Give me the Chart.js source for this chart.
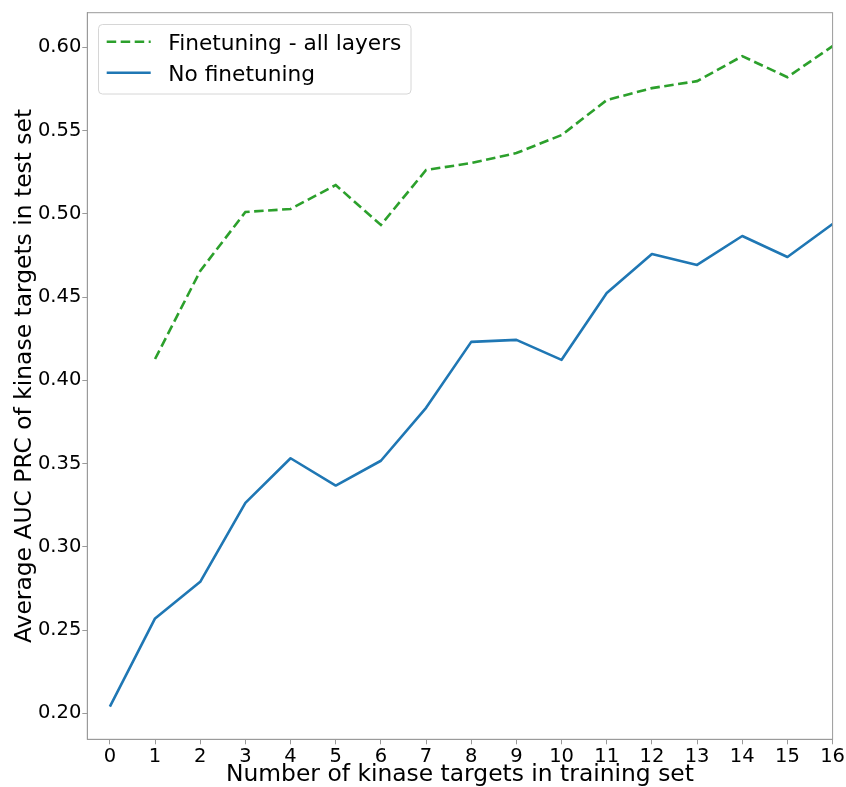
<!DOCTYPE html>
<html>
<head>
<meta charset="utf-8">
<script src="https://cdn.jsdelivr.net/npm/chart.js@4.4.1/dist/chart.umd.min.js"></script>
<style>
  html, body { margin: 0; padding: 0; background: #ffffff; }
  #wrap { width: 846px; height: 787px; }
</style>
</head>
<body>
<div id="wrap"><canvas id="chart" width="846" height="787"></canvas></div>
<script>
// Number of kinase targets included in the training set
const targetsCount = [0, 1, 2, 3, 4, 5, 6, 7, 8, 9, 10, 11, 12, 13, 14, 15, 16];

// Average AUC PRC on the test-set kinase targets
const noFinetuning = [0.204, 0.257, 0.279, 0.3264, 0.3532, 0.3368, 0.3517, 0.3835,
  0.4231, 0.4243, 0.4123, 0.4525, 0.4759, 0.4693, 0.4867, 0.4741, 0.4939];
// Fine-tuned model has no value at 0 targets
const finetuneAll = [null, 0.4128, 0.4657, 0.5011, 0.5029, 0.5173, 0.4933, 0.5263,
  0.5305, 0.5365, 0.5473, 0.5683, 0.5755, 0.5797, 0.5947, 0.5821, 0.6007];

const xTickValues = targetsCount;
const yTickValues = [0.20, 0.25, 0.30, 0.35, 0.40, 0.45, 0.50, 0.55, 0.60];

const seriesNames = ['Finetuning - all layers', 'No finetuning'];

const FONT = '"DejaVu Sans", "Liberation Sans", sans-serif';
const FRAME = '#9a9a9a';

function toPoints(values) {
  return targetsCount.map((x, i) => ({ x: x, y: values[i] }))
                     .filter(p => p.y !== null);
}

// Full box around the plot area (top/right edges are not drawn by the axes)
const frameBox = {
  id: 'frameBox',
  afterDatasetsDraw(chart) {
    const { ctx, chartArea: a } = chart;
    ctx.save();
    ctx.strokeStyle = FRAME;
    ctx.lineWidth = 1;
    ctx.strokeRect(a.left, a.top, a.right - a.left, a.bottom - a.top);
    ctx.restore();
  }
};

// Legend box drawn inside the plot area, top-left corner
const insideLegend = {
  id: 'insideLegend',
  afterDraw(chart) {
    const { ctx } = chart;
    const box = { x: 98.5, y: 24.5, w: 312.5, h: 69.5, r: 4 };
    ctx.save();
    ctx.beginPath();
    ctx.roundRect(box.x, box.y, box.w, box.h, box.r);
    ctx.fillStyle = 'rgba(255,255,255,0.8)';
    ctx.fill();
    ctx.strokeStyle = '#d6d6d6';
    ctx.lineWidth = 1;
    ctx.stroke();

    const rows = [
      { ds: chart.data.datasets[0], lineY: 41.7, baseY: 50 },
      { ds: chart.data.datasets[1], lineY: 72.7, baseY: 81 }
    ];
    rows.forEach(r => {
      ctx.beginPath();
      ctx.setLineDash(r.ds.borderDash || []);
      ctx.lineCap = 'butt';
      ctx.strokeStyle = r.ds.borderColor;
      ctx.lineWidth = r.ds.borderWidth;
      ctx.moveTo(106.7, r.lineY);
      ctx.lineTo(150.7, r.lineY);
      ctx.stroke();
      ctx.setLineDash([]);
      ctx.fillStyle = '#000000';
      ctx.font = '21.7px ' + FONT;
      ctx.textBaseline = 'alphabetic';
      ctx.textAlign = 'left';
      ctx.fillText(r.ds.label, 168.3, r.baseY);
    });
    ctx.restore();
  }
};

new Chart(document.getElementById('chart'), {
  type: 'line',
  data: {
    datasets: [
      {
        label: seriesNames[0],
        data: toPoints(finetuneAll),
        borderColor: '#2ca02c',
        backgroundColor: '#2ca02c',
        borderWidth: 2.6,
        borderDash: [9.5, 4.5],
        pointRadius: 0,
        tension: 0,
        fill: false
      },
      {
        label: seriesNames[1],
        data: toPoints(noFinetuning),
        borderColor: '#1f77b4',
        backgroundColor: '#1f77b4',
        borderWidth: 2.6,
        pointRadius: 0,
        tension: 0,
        fill: false,
        borderJoinStyle: 'round'
      }
    ]
  },
  options: {
    responsive: false,
    animation: false,
    devicePixelRatio: 1,
    layout: { padding: { left: 0, right: 13.3, top: 12.3, bottom: 0 } },
    plugins: {
      legend: { display: false },
      tooltip: { enabled: false }
    },
    scales: {
      x: {
        type: 'linear',
        min: -0.5,
        max: 16,
        afterBuildTicks(scale) { scale.ticks = xTickValues.map(v => ({ value: v })); },
        afterFit(scale) { scale.height = 47.7; },
        grid: { display: true, drawOnChartArea: false, drawTicks: true, tickLength: 5, tickColor: FRAME },
        border: { display: true, color: FRAME, width: 1 },
        ticks: {
          autoSkip: false,
          maxRotation: 0,
          padding: 1,
          color: '#000000',
          font: { family: FONT, size: 19.5 },
          callback: v => String(v)
        },
        title: {
          display: true,
          text: 'Number of kinase targets in training set',
          color: '#000000',
          font: { family: FONT, size: 23.4 },
          padding: { top: 0, bottom: -2 }
        }
      },
      y: {
        type: 'linear',
        min: 0.1844,
        max: 0.6208,
        afterBuildTicks(scale) { scale.ticks = yTickValues.map(v => ({ value: v })); },
        afterFit(scale) { scale.width = 87.3; },
        grid: { display: true, drawOnChartArea: false, drawTicks: true, tickLength: 5, tickColor: FRAME },
        border: { display: true, color: FRAME, width: 1 },
        ticks: {
          padding: 1,
          color: '#000000',
          font: { family: FONT, size: 19.5 },
          callback: v => v.toFixed(2)
        },
        title: {
          display: true,
          text: 'Average AUC PRC of kinase targets in test set',
          color: '#000000',
          font: { family: FONT, size: 23.4 },
          padding: { top: 10.5, bottom: 0 }
        }
      }
    }
  },
  plugins: [frameBox, insideLegend]
});
</script>
</body>
</html>
